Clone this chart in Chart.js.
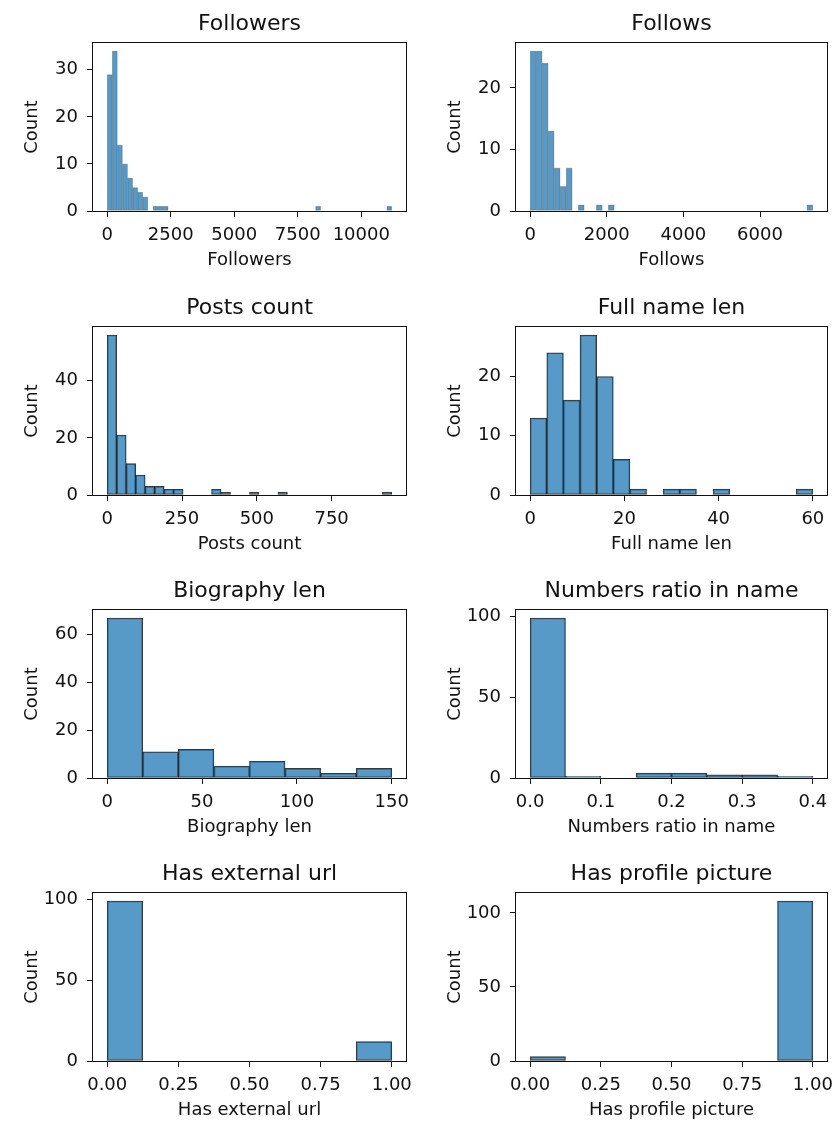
<!DOCTYPE html>
<html>
<head>
<meta charset="utf-8">
<script src="https://cdn.jsdelivr.net/npm/chart.js@4.4.1/dist/chart.umd.min.js"></script>
<style>
  html, body { margin: 0; padding: 0; background: #fff; }
  #fig { position: relative; width: 834px; height: 1124px; overflow: hidden; background: #fff; }
  #fig canvas { position: absolute; }
</style>
</head>
<body>
<div id="fig"></div>
<script>
// titles of the 8 histograms (also used as x axis labels)
const titles = ["Followers", "Follows", "Posts count", "Full name len",
  "Biography len", "Numbers ratio in name", "Has external url", "Has profile picture"];

// counts per bin
const followersCounts = [29, 34, 14, 10, 7, 5, 4, 3, 0, 1, 1, 1,
  0, 0, 0, 0, 0, 0, 0, 0, 0, 0, 0, 0, 0, 0, 0, 0, 0, 0, 0, 0, 0, 0, 0, 0, 0, 0, 0, 0, 0,
  1,
  0, 0, 0, 0, 0, 0, 0, 0, 0, 0, 0, 0, 0,
  1];
const followsCounts = [26, 26, 24, 13, 7, 4, 7, 0, 1, 0, 0, 1, 0, 1,
  0, 0, 0, 0, 0, 0, 0, 0, 0, 0, 0, 0, 0, 0, 0, 0, 0, 0, 0, 0, 0, 0, 0, 0, 0, 0, 0, 0, 0, 0, 0, 0,
  1];
const postsCounts = [56, 21, 11, 7, 3, 3, 2, 2, 0, 0, 0, 2, 1, 0, 0, 1, 0, 0, 1,
  0, 0, 0, 0, 0, 0, 0, 0, 0, 0, 1];
const fullNameCounts = [13, 24, 16, 27, 20, 6, 1, 0, 1, 1, 0, 1, 0, 0, 0, 0, 1];
const bioCounts = [67, 11, 12, 5, 7, 4, 2, 4];
const ratioCounts = [99, 1, 0, 3, 3, 2, 2, 1];
const urlCounts = [99, 0, 0, 0, 0, 0, 0, 12];
const picCounts = [3, 0, 0, 0, 0, 0, 0, 108];

// bin layout (left edge of first bin and bin width)
const binStarts = [0, 0, 0, 0, 0, 0, 0, 0];
const binWidths = [200, 157, 31.7, 60 / 17, 18.75, 0.05, 0.125, 0.125];

// tick labels
const followersTicks = [0, 2500, 5000, 7500, 10000];
const followsTicks = [0, 2000, 4000, 6000];
const postsTicks = [0, 250, 500, 750];
const fullNameTicks = [0, 20, 40, 60];
const bioTicks = [0, 50, 100, 150];
const ratioTicks = [0, 0.1, 0.2, 0.3, 0.4];
const boolTicks = [0, 0.25, 0.5, 0.75, 1];

const countTicks30 = [0, 10, 20, 30];
const countTicks20 = [0, 10, 20];
const countTicks40 = [0, 20, 40];
const countTicks60 = [0, 20, 40, 60];
const countTicks100 = [0, 50, 100];

const panels = [
  { counts: followersCounts, xTicks: followersTicks, yTicks: countTicks30, dec: 0, thin: true },
  { counts: followsCounts, xTicks: followsTicks, yTicks: countTicks20, dec: 0, thin: true },
  { counts: postsCounts, xTicks: postsTicks, yTicks: countTicks40, dec: 0 },
  { counts: fullNameCounts, xTicks: fullNameTicks, yTicks: countTicks20, dec: 0 },
  { counts: bioCounts, xTicks: bioTicks, yTicks: countTicks60, dec: 0 },
  { counts: ratioCounts, xTicks: ratioTicks, yTicks: countTicks100, dec: 1 },
  { counts: urlCounts, xTicks: boolTicks, yTicks: countTicks100, dec: 2 },
  { counts: picCounts, xTicks: boolTicks, yTicks: countTicks100, dec: 2 },
];

// figure geometry (axes boxes)
const colL = [93, 516], colR = [406, 827];
const rowT = [43, 327, 610, 893];
const AX_H = 168, YW = 85, TOPH = 40, BOTH = 72, PADR = 6;

Chart.defaults.font.family = "'DejaVu Sans', sans-serif";
Chart.defaults.color = "#111";

const frame = {
  id: "frame",
  afterDatasetsDraw(chart) {
    const { ctx, chartArea: a } = chart;
    ctx.save();
    ctx.strokeStyle = "#111";
    ctx.lineWidth = 1;
    ctx.strokeRect(Math.round(a.left) - 0.5, Math.round(a.top) - 0.5,
      Math.round(a.right - a.left) + 1, Math.round(a.bottom - a.top) + 1);
    ctx.restore();
  }
};

const fig = document.getElementById("fig");

panels.forEach((p, i) => {
  const col = i % 2, row = Math.floor(i / 2);
  const L = colL[col], R = colR[col], T = rowT[row];
  const cv = document.createElement("canvas");
  const w = R - L + YW + PADR, h = TOPH + AX_H + BOTH;
  cv.width = w; cv.height = h;
  cv.style.left = (L - YW) + "px";
  cv.style.top = (T - TOPH) + "px";
  cv.style.width = w + "px";
  cv.style.height = h + "px";
  fig.appendChild(cv);

  const bw = binWidths[i], b0 = binStarts[i];
  const n = p.counts.length;
  const span = n * bw;
  const pts = p.counts.map((c, k) => ({ x: b0 + bw * (k + 0.5), y: c }));
  const yMax = Math.max(...p.counts) * 1.05;

  new Chart(cv, {
    type: "bar",
    data: {
      datasets: [{
        data: pts,
        backgroundColor: "rgba(31,119,180,0.75)",
        borderColor: p.thin ? "rgba(0,0,0,0.3)" : "rgba(0,0,0,0.78)",
        borderWidth: p.thin ? 0.6 : 1,
        borderSkipped: false,
        barPercentage: 1,
        categoryPercentage: 1,
      }],
    },
    options: {
      responsive: false,
      animation: false,
      devicePixelRatio: 1,
      layout: { padding: { left: 0, right: PADR, top: 0, bottom: 0 } },
      plugins: {
        legend: { display: false },
        tooltip: { enabled: false },
        title: {
          display: true,
          fullSize: false,
          text: titles[i],
          font: { size: 22, weight: "normal" },
          color: "#111",
          padding: { top: 8.2, bottom: 5.4 },
        },
      },
      scales: {
        x: {
          type: "linear",
          offset: false,
          min: b0 - 0.05 * span,
          max: b0 + 1.05 * span,
          afterBuildTicks: (s) => { s.ticks = p.xTicks.map((v) => ({ value: v })); },
          afterFit: (s) => { s.height = BOTH; s.paddingLeft = 0; s.paddingRight = 0; },
          grid: { offset: false, drawOnChartArea: false, drawTicks: true, tickLength: 6, color: "#111" },
          border: { display: false },
          ticks: {
            font: { size: 18 },
            padding: 8,
            maxRotation: 0,
            autoSkip: false,
            callback: (v) => Number(v).toFixed(p.dec),
          },
          title: {
            display: true,
            text: titles[i],
            font: { size: 18 },
            padding: { top: 0, bottom: 12.2 },
          },
        },
        y: {
          min: 0,
          max: yMax,
          afterBuildTicks: (s) => { s.ticks = p.yTicks.map((v) => ({ value: v })); },
          afterFit: (s) => { s.width = YW; s.paddingTop = 0; s.paddingBottom = 0; },
          grid: { drawOnChartArea: false, drawTicks: true, tickLength: 6, color: "#111" },
          border: { display: false },
          ticks: { font: { size: 18 }, padding: 9, autoSkip: false,
            callback: (v) => String(v) },
          title: {
            display: true,
            text: "Count",
            font: { size: 18 },
            padding: { top: 13.7, bottom: 0 },
          },
        },
      },
    },
    plugins: [frame],
  });
});
</script>
</body>
</html>
